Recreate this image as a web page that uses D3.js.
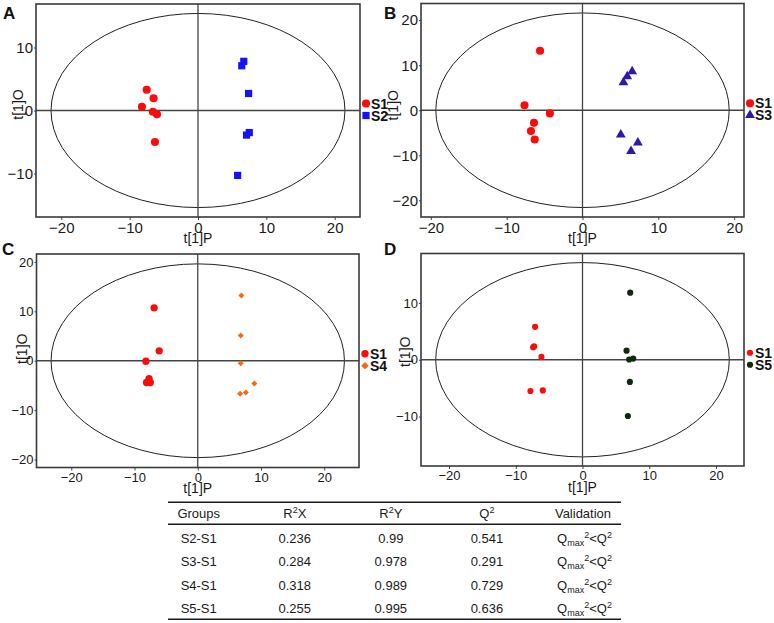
<!DOCTYPE html>
<html>
<head>
<meta charset="utf-8">
<script src="https://cdn.jsdelivr.net/npm/d3@7"></script>
<style>
  body { margin: 0; background: #fff; }
  svg { display: block; }
</style>
</head>
<body>
<div id="chart"></div>
<script>
// score points, [t[1]P, t[1]O]
var aS1 = [[-7.5, 3.3], [-6.5, 1.95], [-8.2, 0.6], [-6.6, -0.2], [-6.0, -0.6], [-6.3, -5.0]];
var aS2 = [[6.7, 7.8], [6.4, 7.1], [7.4, 2.7], [7.5, -3.5], [7.1, -3.9], [5.8, -10.3]];
var bS1 = [[-5.6, 13.2], [-7.65, 1.1], [-4.3, -0.7], [-6.4, -2.8], [-6.8, -4.6], [-6.3, -6.5]];
var bS3 = [[6.55, 8.6], [5.9, 7.5], [5.4, 6.2], [5.05, -5.4], [7.3, -7.2], [6.4, -9.1]];
var cS1 = [[-6.9, 10.7], [-6.1, 2.0], [-8.2, -0.1], [-7.7, -3.6], [-8.1, -4.4], [-7.5, -4.4]];
var cS4 = [[6.9, 13.2], [6.8, 5.1], [6.8, -0.5], [8.95, -4.6], [7.6, -6.4], [6.7, -6.7]];
var dS1 = [[-7.1, 5.8], [-7.4, 2.2], [-7.25, 2.35], [-6.15, 0.5], [-7.8, -5.5], [-5.95, -5.4]];
var dS5 = [[7.15, 11.8], [6.6, 1.6], [7.0, 0.05], [7.6, 0.2], [7.1, -3.9], [6.8, -9.9]];

var panelLabels = ['A', 'B', 'C', 'D'];
var xTicks = [-20, -10, 0, 10, 20];
var yTicksA = [-10, 0, 10];
var yTicksB = [-20, -10, 0, 10, 20];
var yTicksC = [-20, -10, 0, 10, 20];
var yTicksD = [-10, 0, 10];
// half-widths of the axes and the Hotelling T2 ellipse radii
var xLimits = [23.7, 21.3, 25.5, 24.2];
var yLimits = [16.9, 23.7, 21.6, 18.7];
var ellipseRx = [21.5, 19.35, 23.2, 22.0];
var ellipseRy = [15.4, 21.6, 19.6, 17.1];

// model table
var groups = ['S2-S1', 'S3-S1', 'S4-S1', 'S5-S1'];
var r2x = [0.236, 0.284, 0.318, 0.255];
var r2y = [0.99, 0.978, 0.989, 0.995];
var q2 = [0.541, 0.291, 0.729, 0.636];

var font = '"Liberation Sans", Arial, sans-serif';

var svg = d3.select('#chart').append('svg')
    .attr('width', 774)
    .attr('height', 623)
    .style('font-family', font);

var panels = [
    {frame: [36, 4, 360, 217], yTicks: yTicksA, tickFont: 15, titleX: 23, titleUp: 6, labelPos: [3, 19],
     series: [{name: 'S1', data: aS1, shape: d3.symbolCircle, size: 52, color: '#ff0a0a'},
              {name: 'S2', data: aS2, shape: d3.symbolSquare, size: 52, color: '#1212ff'}]},
    {frame: [421, 3.5, 744, 217], yTicks: yTicksB, tickFont: 15, titleX: 398, titleUp: 5, labelPos: [384, 19],
     series: [{name: 'S1', data: bS1, shape: d3.symbolCircle, size: 52, color: '#ff0a0a'},
              {name: 'S3', data: bS3, shape: d3.symbolTriangle, size: 42, color: '#2c1ab0'}]},
    {frame: [36.5, 254, 359, 467.5], yTicks: yTicksC, tickFont: 13, titleX: 27, titleUp: 12, labelPos: [2, 255],
     series: [{name: 'S1', data: cS1, shape: d3.symbolCircle, size: 42, color: '#ff0a0a'},
              {name: 'S4', data: cS4, shape: d3.symbolSquare, size: 18, color: '#f56a10', rotate: 45}]},
    {frame: [421, 253.5, 744, 466], yTicks: yTicksD, tickFont: 13, titleX: 410, titleUp: 8, labelPos: [384, 255],
     series: [{name: 'S1', data: dS1, shape: d3.symbolCircle, size: 30, color: '#ff0a0a'},
              {name: 'S5', data: dS5, shape: d3.symbolCircle, size: 30, color: '#0e2a0e'}]}
];

panels.forEach(function (p, i) {
    var f = p.frame;
    var x = d3.scaleLinear().domain([-xLimits[i], xLimits[i]]).range([f[0], f[2]]);
    var y = d3.scaleLinear().domain([-yLimits[i], yLimits[i]]).range([f[3], f[1]]);
    var g = svg.append('g');

    g.append('ellipse')
        .attr('cx', x(0)).attr('cy', y(0))
        .attr('rx', x(ellipseRx[i]) - x(0))
        .attr('ry', y(0) - y(ellipseRy[i]))
        .attr('fill', 'none').attr('stroke', '#222').attr('stroke-width', 1);

    g.append('line')
        .attr('x1', f[0]).attr('x2', f[2]).attr('y1', y(0)).attr('y2', y(0))
        .attr('stroke', '#444').attr('stroke-width', 1.3);
    g.append('line')
        .attr('x1', x(0)).attr('x2', x(0)).attr('y1', f[1]).attr('y2', f[3])
        .attr('stroke', '#444').attr('stroke-width', 1.3);

    var xAxis = g.append('g')
        .attr('transform', 'translate(0,' + f[3] + ')')
        .call(d3.axisBottom(x).tickValues(xTicks).tickSize(3).tickPadding(2).tickFormat(d3.format('d')));
    var yAxis = g.append('g')
        .attr('transform', 'translate(' + f[0] + ',0)')
        .call(d3.axisLeft(y).tickValues(p.yTicks).tickSize(2).tickPadding(1).tickFormat(d3.format('d')));
    [xAxis, yAxis].forEach(function (a) {
        a.select('.domain').remove();
        a.selectAll('line').attr('stroke', '#444');
        a.selectAll('text').attr('font-size', p.tickFont).attr('font-family', font).attr('fill', '#1a1a1a');
    });

    g.append('rect')
        .attr('x', f[0]).attr('y', f[1])
        .attr('width', f[2] - f[0]).attr('height', f[3] - f[1])
        .attr('fill', 'none').attr('stroke', '#3a3a3a').attr('stroke-width', 1.6);

    p.series.forEach(function (s) {
        g.selectAll(null)
            .data(s.data)
            .enter()
            .append('path')
            .attr('d', d3.symbol().type(s.shape).size(s.size))
            .attr('transform', function (d) {
                return 'translate(' + x(d[0]) + ',' + y(d[1]) + ')' + (s.rotate ? ' rotate(' + s.rotate + ')' : '');
            })
            .attr('fill', s.color);
    });

    // legend
    p.series.forEach(function (s, k) {
        var ly = y(0) + (k === 0 ? -7 : 5);
        var lx = f[2] + 6;
        g.append('path')
            .attr('d', d3.symbol().type(s.shape).size(s.size * (s.rotate ? 1.6 : 1)))
            .attr('transform', 'translate(' + lx + ',' + ly + ')' + (s.rotate ? ' rotate(' + s.rotate + ')' : ''))
            .attr('fill', s.color);
        g.append('text')
            .attr('x', lx + 5)
            .attr('y', ly + 5)
            .attr('font-size', 14)
            .attr('font-weight', 'bold')
            .attr('fill', '#111')
            .text(s.name);
    });

    g.append('text')
        .attr('x', (f[0] + f[2]) / 2)
        .attr('y', f[3] + 25.5)
        .attr('text-anchor', 'middle')
        .attr('font-size', 14)
        .attr('fill', '#1a1a1a')
        .text('t[1]P');
    g.append('text')
        .attr('transform', 'translate(' + p.titleX + ',' + (y(0) - p.titleUp) + ') rotate(-90)')
        .attr('text-anchor', 'middle')
        .attr('font-size', 14)
        .attr('fill', '#1a1a1a')
        .text('t[1]O');

    g.append('text')
        .attr('x', p.labelPos[0]).attr('y', p.labelPos[1])
        .attr('font-size', 17)
        .attr('font-weight', 'bold')
        .attr('fill', '#111')
        .text(panelLabels[i]);
});

// table
var tableLeft = 168, tableRight = 621;
var columns = ['Groups', 'R2X', 'R2Y', 'Q2', 'Validation'];
var colX = d3.scalePoint().domain(columns).range([198.7, 583]);
var rowY = d3.scalePoint().domain(groups).range([543.3, 612.7]);
var table = svg.append('g').attr('font-size', 13).attr('fill', '#1a1a1a');

[502.3, 524.3, 619.3].forEach(function (ly) {
    table.append('line')
        .attr('x1', tableLeft).attr('x2', tableRight).attr('y1', ly).attr('y2', ly)
        .attr('stroke', '#1a1a1a').attr('stroke-width', 1.6);
});

function supText(sel, parts) {
    // parts: [text, mode] mode: '' normal, 'sup', 'sub'
    var shift = 0;
    parts.forEach(function (pt) {
        var target = pt[1] === 'sup' ? -5 : pt[1] === 'sub' ? 3 : 0;
        sel.append('tspan')
            .attr('dy', target - shift)
            .attr('font-size', pt[1] ? 9 : 13)
            .text(pt[0]);
        shift = target;
    });
}

var headerParts = {
    'Groups': [['Groups', '']],
    'R2X': [['R', ''], ['2', 'sup'], ['X', '']],
    'R2Y': [['R', ''], ['2', 'sup'], ['Y', '']],
    'Q2': [['Q', ''], ['2', 'sup']],
    'Validation': [['Validation', '']]
};
columns.forEach(function (c) {
    var t = table.append('text')
        .attr('x', colX(c)).attr('y', 518.3)
        .attr('text-anchor', 'middle');
    supText(t, headerParts[c]);
});

groups.forEach(function (gname, r) {
    var vals = [gname, String(r2x[r]), String(r2y[r]), String(q2[r])];
    vals.forEach(function (v, c) {
        table.append('text')
            .attr('x', colX(columns[c]))
            .attr('y', rowY(gname))
            .attr('text-anchor', 'middle')
            .text(v);
    });
    var t = table.append('text')
        .attr('x', colX('Validation') + 1.5)
        .attr('y', rowY(gname))
        .attr('text-anchor', 'middle');
    supText(t, [['Q', ''], ['max', 'sub'], ['2', 'sup'], ['<Q', ''], ['2', 'sup']]);
});
</script>
</body>
</html>
